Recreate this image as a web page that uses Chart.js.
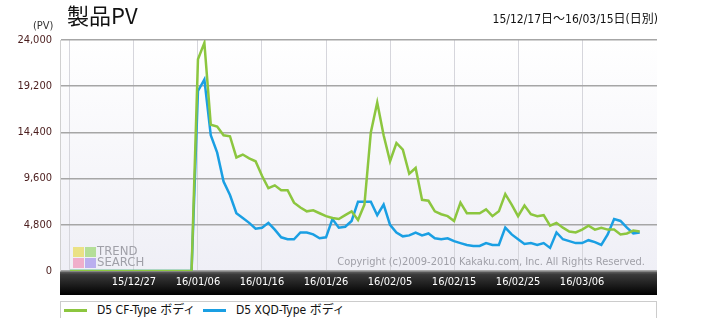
<!DOCTYPE html>
<html lang="ja">
<head>
<meta charset="UTF-8">
<title>製品PV</title>
<script src="https://cdn.jsdelivr.net/npm/chart.js"></script>
<style>
  * { box-sizing: border-box; margin: 0; padding: 0; }
  body { background: #fff; width: 715px; height: 318px; overflow: hidden; font-family: "DejaVu Sans Condensed", "Noto Sans CJK JP", sans-serif; }
  .wrap { position: relative; width: 715px; height: 318px; }
  #chart { position: absolute; left: 0; top: 0; }
  .title { position: absolute; left: 67px; top: 1px; font-family: "Noto Sans CJK JP", sans-serif; font-size: 22px; color: #111; line-height: 26px; }
  .unit { position: absolute; left: 33px; top: 19px; font-size: 11px; color: #333; }
  .range { position: absolute; right: 57px; top: 9px; font-size: 12px; color: #111; }
  .legend { position: absolute; left: 60px; top: 301px; width: 597px; height: 18px; border: 1px solid #ccc; background: #fff; font-size: 12px; color: #111; }
  .legend .sw { position: absolute; top: 7px; width: 23px; height: 3px; }
  .legend .lb { position: absolute; top: 1px; line-height: 15px; }
</style>
</head>
<body>
<div class="wrap">
  <canvas id="chart" width="715" height="318"></canvas>
  <div class="title">製品PV</div>
  <div class="unit">(PV)</div>
  <div class="range">15/12/17日～16/03/15日(日別)</div>
  <div class="legend">
    <span class="sw" style="left:3px;background:#8cc63f"></span>
    <span class="lb" style="left:36px">D5 CF-Type ボディ</span>
    <span class="sw" style="left:142px;background:#1a9fe3"></span>
    <span class="lb" style="left:175px">D5 XQD-Type ボディ</span>
  </div>
</div>
<script>
// daily values, 15/12/17 .. 16/03/15 (90 days)
const cfType = [
  0,0,0,0,0,0,0,0,0,0, 0,0,0,0,0,0,0,0,0,0,
  22000,23700,15200,15000,14100,14000,11800,12100,11700,11400,
  9900,8600,8900,8400,8400,7100,6600,6200,6300,6000,
  5700,5500,5400,5800,6200,5300,6900,14400,17500,14100,
  11400,13300,12600,10100,10700,7400,7300,6200,5900,5700,
  5200,7100,6000,6000,6000,6400,5700,6200,8000,6900,
  5700,6800,5900,5700,5800,4700,5000,4500,4100,4000,
  4300,4700,4300,4500,4300,4300,3800,3900,4200,4100
];
const xqdType = [
  0,0,0,0,0,0,0,0,0,0, 0,0,0,0,0,0,0,0,0,0,
  18700,19900,14100,12300,9300,7900,6000,5500,5000,4400,
  4500,5000,4300,3500,3300,3300,4000,4000,3800,3400,
  3500,5400,4500,4600,5200,7200,7200,7200,5800,6900,
  4800,4000,3600,3700,4000,3700,3900,3400,3300,3400,
  3100,2900,2700,2600,2600,2900,2700,2700,4500,3800,
  3300,2800,2900,2700,2900,2400,4000,3300,3100,2900,
  2900,3200,3000,2700,3800,5400,5200,4500,3900,4000
];
const tickDays = [0, 10, 20, 30, 40, 50, 60, 70, 80];
const tickLabels = ['', '15/12/27', '16/01/06', '16/01/16', '16/01/26', '16/02/05', '16/02/15', '16/02/25', '16/03/06'];
const yTicks = [0, 4800, 9600, 14400, 19200, 24000];

const condensed = '"DejaVu Sans Condensed", "DejaVu Sans", sans-serif';

// plot background, dark date bar and watermark texts
const decor = {
  id: 'decor',
  beforeDraw(chart) {
    const { ctx, chartArea: a } = chart;
    ctx.save();
    const bg = ctx.createLinearGradient(0, a.top, 0, a.bottom);
    bg.addColorStop(0, '#ffffff');
    bg.addColorStop(1, '#efeff6');
    ctx.fillStyle = bg;
    ctx.fillRect(a.left, a.top, a.right - a.left, a.bottom - a.top);
    const bar = ctx.createLinearGradient(0, a.bottom, 0, a.bottom + 24);
    bar.addColorStop(0, '#6a6a6a');
    bar.addColorStop(0.15, '#3a3a3a');
    bar.addColorStop(1, '#000000');
    ctx.fillStyle = bar;
    ctx.fillRect(a.left, a.bottom, a.right - a.left, 24);
    ctx.restore();
  },
  beforeDatasetsDraw(chart) {
    const { ctx, chartArea: a } = chart;
    ctx.save();
    // trend search logo
    const lx = 73, ly = 247;
    ctx.globalAlpha = 0.75;
    ctx.fillStyle = '#e8dc60'; ctx.fillRect(lx, ly, 11, 10);
    ctx.fillStyle = '#a0d878'; ctx.fillRect(lx + 12, ly, 11, 10);
    ctx.fillStyle = '#f098bc'; ctx.fillRect(lx, ly + 11, 11, 10);
    ctx.fillStyle = '#a898ec'; ctx.fillRect(lx + 12, ly + 11, 11, 10);
    ctx.globalAlpha = 1;
    ctx.fillStyle = '#a0a0a8';
    ctx.font = '13px ' + condensed;
    ctx.textBaseline = 'top';
    ctx.fillText('TREND', 97, 245);
    ctx.fillText('SEARCH', 97, 256);
    ctx.font = '11px ' + condensed;
    ctx.textAlign = 'right';
    ctx.fillText('Copyright (c)2009-2010 Kakaku.com, Inc. All Rights Reserved.', a.right - 12, 257);
    ctx.restore();
  }
};

const days = cfType.map((v, i) => i);

new Chart(document.getElementById('chart'), {
  type: 'line',
  data: {
    datasets: [
      {
        label: 'D5 CF-Type ボディ',
        data: days.map(i => ({ x: i, y: cfType[i] })),
        borderColor: '#8cc63f',
        borderWidth: 2.5,
        pointRadius: 0,
        tension: 0
      },
      {
        label: 'D5 XQD-Type ボディ',
        data: days.map(i => ({ x: i, y: xqdType[i] })),
        borderColor: '#1a9fe3',
        borderWidth: 2.5,
        pointRadius: 0,
        tension: 0
      }
    ]
  },
  options: {
    responsive: false,
    animation: false,
    layout: { padding: { top: 40, right: 58, bottom: 23, left: 0 } },
    plugins: { legend: { display: false }, tooltip: { enabled: false } },
    scales: {
      x: {
        type: 'linear',
        min: -1.55,
        max: 91.7,
        afterBuildTicks: s => { s.ticks = tickDays.map(v => ({ value: v })); },
        afterFit: s => { s.height = 24; },
        grid: { color: '#d6d6dc', lineWidth: 1, drawTicks: false },
        border: { display: false },
        ticks: {
          autoSkip: false,
          maxRotation: 0,
          padding: 5,
          color: '#ffffff',
          font: { family: condensed, size: 11 },
          callback: (v) => tickLabels[tickDays.indexOf(v)]
        }
      },
      y: {
        min: 0,
        max: 24000,
        afterBuildTicks: s => { s.ticks = yTicks.map(v => ({ value: v })); },
        afterFit: s => { s.width = 60; },
        grid: { color: '#a6a6a6', lineWidth: 1.5, drawTicks: false },
        border: { color: '#d0d0d0' },
        ticks: {
          padding: 8,
          color: '#4a1c1c',
          font: { family: condensed, size: 11 },
          callback: v => v.toLocaleString('en-US')
        }
      }
    }
  },
  plugins: [decor]
});
</script>
</body>
</html>
